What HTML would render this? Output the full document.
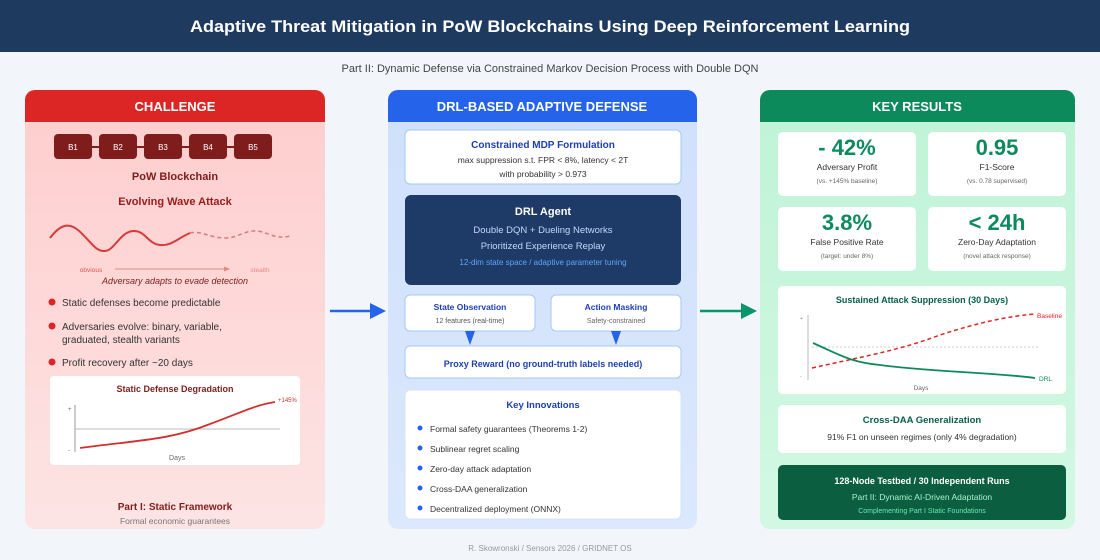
<!DOCTYPE html>
<html><head><meta charset="utf-8"><style>
html,body{margin:0;padding:0;background:#f0f4fa;}
svg{display:block;font-family:"Liberation Sans",Arial,sans-serif;}
</style></head><body>
<svg width="1100" height="560" viewBox="0 0 1100 560" xmlns="http://www.w3.org/2000/svg">
<defs>
<linearGradient id="gr" x1="0" y1="0" x2="0" y2="1"><stop offset="0" stop-color="#fecdcd"/><stop offset="1" stop-color="#fde4e4"/></linearGradient>
<linearGradient id="gb" x1="0" y1="0" x2="0" y2="1"><stop offset="0" stop-color="#cfe0fb"/><stop offset="1" stop-color="#dbe8fd"/></linearGradient>
<linearGradient id="gg" x1="0" y1="0" x2="0" y2="1"><stop offset="0" stop-color="#bff3d6"/><stop offset="1" stop-color="#d2f8e3"/></linearGradient>
</defs>
<rect width="1100" height="560" fill="#f2f6fb"/>
<rect width="1100" height="52" fill="#1e3a5f"/>
<text x="550" y="32" text-anchor="middle" fill="#fff" font-size="17" font-weight="bold" textLength="720" lengthAdjust="spacingAndGlyphs">Adaptive Threat Mitigation in PoW Blockchains Using Deep Reinforcement Learning</text>
<text x="550" y="72" text-anchor="middle" fill="#444" font-size="11">Part II: Dynamic Defense via Constrained Markov Decision Process with Double DQN</text>

<!-- LEFT -->
<rect x="25" y="90" width="300" height="439" rx="10" fill="url(#gr)"/>
<path d="M35 90 H315 a10 10 0 0 1 10 10 V122 H25 V100 a10 10 0 0 1 10 -10z" fill="#dc2626"/>
<text x="175" y="111" text-anchor="middle" fill="#fff" font-size="13" font-weight="bold">CHALLENGE</text>
<line x1="70" y1="147" x2="255" y2="147" stroke="#7f1d1d" stroke-width="2"/>
<g fill="#7f1d1d"><rect x="54" y="134" width="38" height="25" rx="4"/><rect x="99" y="134" width="38" height="25" rx="4"/><rect x="144" y="134" width="38" height="25" rx="4"/><rect x="189" y="134" width="38" height="25" rx="4"/><rect x="234" y="134" width="38" height="25" rx="4"/></g>
<g fill="#fff" font-size="8" text-anchor="middle"><text x="73" y="150">B1</text><text x="118" y="150">B2</text><text x="163" y="150">B3</text><text x="208" y="150">B4</text><text x="253" y="150">B5</text></g>
<text x="175" y="180" text-anchor="middle" fill="#7f1d1d" font-size="11" font-weight="bold">PoW Blockchain</text>
<text x="175" y="205" text-anchor="middle" fill="#991b1b" font-size="11" font-weight="bold">Evolving Wave Attack</text>
<path d="M50 238 C60 225 68 222 78 230 C90 240 95 252 105 251 C115 250 120 232 133 231 C145 230 148 244 160 245 C172 246 178 238 190 233" fill="none" stroke="#d63a3a" stroke-width="2"/>
<path d="M190 233 C200 230 210 238 225 238 C238 238 245 230 257 231 C268 232 275 240 290 236" fill="none" stroke="#e07a7a" stroke-width="1.5" stroke-dasharray="4 3"/>
<text x="91" y="272" text-anchor="middle" fill="#e05555" font-size="6.5">obvious</text>
<line x1="115" y1="269" x2="225" y2="269" stroke="#e08a8a" stroke-width="1"/>
<polygon points="230,269 224,266.5 224,271.5" fill="#e08a8a"/>
<text x="260" y="272" text-anchor="middle" fill="#e08a8a" font-size="6.5">stealth</text>
<text x="175" y="284" text-anchor="middle" fill="#7f1d1d" font-size="9" font-style="italic">Adversary adapts to evade detection</text>
<g fill="#dc2626"><circle cx="52" cy="302" r="3.5"/><circle cx="52" cy="326" r="3.5"/><circle cx="52" cy="362" r="3.5"/></g>
<g fill="#333" font-size="10"><text x="62" y="306">Static defenses become predictable</text><text x="62" y="330">Adversaries evolve: binary, variable,</text><text x="62" y="343">graduated, stealth variants</text><text x="62" y="366">Profit recovery after ~20 days</text></g>
<rect x="50" y="376" width="250" height="89" rx="4" fill="#fff"/>
<text x="175" y="392" text-anchor="middle" fill="#7f1d1d" font-size="9" font-weight="bold">Static Defense Degradation</text>
<line x1="75" y1="405" x2="75" y2="452" stroke="#999" stroke-width="1"/>
<line x1="75" y1="429" x2="280" y2="429" stroke="#bbb" stroke-width="1"/>
<path d="M80 448 C140 440 170 440 210 424 C240 413 255 405 275 402" fill="none" stroke="#d32f2f" stroke-width="1.8"/>
<text x="278" y="402" fill="#d32f2f" font-size="6">+145%</text>
<text x="68" y="411" fill="#666" font-size="6">+</text><text x="68" y="452" fill="#666" font-size="6">-</text>
<text x="177" y="460" text-anchor="middle" fill="#666" font-size="7">Days</text>
<text x="175" y="510" text-anchor="middle" fill="#7f1d1d" font-size="10" font-weight="bold">Part I: Static Framework</text>
<text x="175" y="524" text-anchor="middle" fill="#777" font-size="8.5">Formal economic guarantees</text>

<!-- arrows -->
<line x1="330" y1="311" x2="372" y2="311" stroke="#2563eb" stroke-width="2.5"/>
<polygon points="386,311 370,303 370,319" fill="#2563eb"/>
<line x1="700" y1="311" x2="743" y2="311" stroke="#059669" stroke-width="2.5"/>
<polygon points="757,311 741,303 741,319" fill="#059669"/>

<!-- MIDDLE -->
<rect x="388" y="90" width="309" height="439" rx="10" fill="url(#gb)"/>
<path d="M398 90 H687 a10 10 0 0 1 10 10 V122 H388 V100 a10 10 0 0 1 10 -10z" fill="#2563eb"/>
<text x="542" y="111" text-anchor="middle" fill="#fff" font-size="13" font-weight="bold">DRL-BASED ADAPTIVE DEFENSE</text>
<rect x="405" y="130" width="276" height="54" rx="5" fill="#fff" stroke="#a5c8f5"/>
<text x="543" y="148" text-anchor="middle" fill="#1e40af" font-size="10" font-weight="bold">Constrained MDP Formulation</text>
<text x="543" y="163" text-anchor="middle" fill="#333" font-size="8.5">max suppression s.t. FPR &lt; 8%, latency &lt; 2T</text>
<text x="543" y="177" text-anchor="middle" fill="#333" font-size="8.5">with probability &gt; 0.973</text>
<rect x="405" y="195" width="276" height="90" rx="6" fill="#1e3a66"/>
<text x="543" y="215" text-anchor="middle" fill="#fff" font-size="11" font-weight="bold">DRL Agent</text>
<text x="543" y="233" text-anchor="middle" fill="#bfdbfe" font-size="9.5">Double DQN + Dueling Networks</text>
<text x="543" y="249" text-anchor="middle" fill="#bfdbfe" font-size="9.5">Prioritized Experience Replay</text>
<text x="543" y="265" text-anchor="middle" fill="#60a5fa" font-size="8">12-dim state space / adaptive parameter tuning</text>
<rect x="405" y="295" width="130" height="36" rx="5" fill="#fff" stroke="#a5c8f5"/>
<text x="470" y="310" text-anchor="middle" fill="#1e40af" font-size="8.5" font-weight="bold">State Observation</text>
<text x="470" y="323" text-anchor="middle" fill="#555" font-size="7">12 features (real-time)</text>
<rect x="551" y="295" width="130" height="36" rx="5" fill="#fff" stroke="#a5c8f5"/>
<text x="616" y="310" text-anchor="middle" fill="#1e40af" font-size="8.5" font-weight="bold">Action Masking</text>
<text x="616" y="323" text-anchor="middle" fill="#666" font-size="7">Safety-constrained</text>
<polygon points="465,331 475,331 470,345" fill="#2563eb"/>
<polygon points="611,331 621,331 616,345" fill="#2563eb"/>
<rect x="405" y="346" width="276" height="32" rx="5" fill="#fff" stroke="#a5c8f5"/>
<text x="543" y="367" text-anchor="middle" fill="#1e40af" font-size="9" font-weight="bold">Proxy Reward (no ground-truth labels needed)</text>
<rect x="405" y="390" width="276" height="129" rx="5" fill="#fff" stroke="#d4e3fa"/>
<text x="543" y="408" text-anchor="middle" fill="#1e40af" font-size="9.5" font-weight="bold">Key Innovations</text>
<g fill="#2563eb"><circle cx="420" cy="428" r="2.5"/><circle cx="420" cy="448" r="2.5"/><circle cx="420" cy="468" r="2.5"/><circle cx="420" cy="488" r="2.5"/><circle cx="420" cy="508" r="2.5"/></g>
<g fill="#333" font-size="8.5"><text x="430" y="432">Formal safety guarantees (Theorems 1-2)</text><text x="430" y="452">Sublinear regret scaling</text><text x="430" y="472">Zero-day attack adaptation</text><text x="430" y="492">Cross-DAA generalization</text><text x="430" y="512">Decentralized deployment (ONNX)</text></g>

<!-- RIGHT -->
<rect x="760" y="90" width="315" height="439" rx="10" fill="url(#gg)"/>
<path d="M770 90 H1065 a10 10 0 0 1 10 10 V122 H760 V100 a10 10 0 0 1 10 -10z" fill="#0d8a5c"/>
<text x="917" y="111" text-anchor="middle" fill="#fff" font-size="13" font-weight="bold">KEY RESULTS</text>
<g fill="#fff"><rect x="778" y="132" width="138" height="64" rx="5"/><rect x="928" y="132" width="138" height="64" rx="5"/><rect x="778" y="207" width="138" height="64" rx="5"/><rect x="928" y="207" width="138" height="64" rx="5"/></g>
<g fill="#0d8a5c" font-size="22" font-weight="bold" text-anchor="middle"><text x="847" y="155">- 42%</text><text x="997" y="155">0.95</text><text x="847" y="230">3.8%</text><text x="997" y="230">&lt; 24h</text></g>
<g fill="#333" font-size="8.5" text-anchor="middle"><text x="847" y="170">Adversary Profit</text><text x="997" y="170">F1-Score</text><text x="847" y="245">False Positive Rate</text><text x="997" y="245">Zero-Day Adaptation</text></g>
<g fill="#666" font-size="6.5" text-anchor="middle"><text x="847" y="183">(vs. +145% baseline)</text><text x="997" y="183">(vs. 0.78 supervised)</text><text x="847" y="258">(target: under 8%)</text><text x="997" y="258">(novel attack response)</text></g>
<rect x="778" y="286" width="288" height="108" rx="5" fill="#fff"/>
<text x="922" y="303" text-anchor="middle" fill="#065f46" font-size="9" font-weight="bold">Sustained Attack Suppression (30 Days)</text>
<line x1="808" y1="315" x2="808" y2="380" stroke="#bbb"/>
<line x1="812" y1="347" x2="1040" y2="347" stroke="#ccc" stroke-dasharray="2 2"/>
<path d="M812 368 C870 355 900 350 940 335 C980 322 1010 316 1035 314" fill="none" stroke="#dc2626" stroke-width="1.5" stroke-dasharray="4 3"/>
<path d="M813 343 C840 355 850 362 880 365 C930 372 990 372 1035 378" fill="none" stroke="#0d8a5c" stroke-width="1.8"/>
<text x="1037" y="318" fill="#dc2626" font-size="6.5">Baseline</text>
<text x="1039" y="381" fill="#0d8a5c" font-size="6.5">DRL</text>
<text x="800" y="320" fill="#888" font-size="5">+</text><text x="800" y="378" fill="#888" font-size="5">-</text>
<text x="921" y="390" text-anchor="middle" fill="#666" font-size="6.5">Days</text>
<rect x="778" y="405" width="288" height="48" rx="5" fill="#fff"/>
<text x="922" y="423" text-anchor="middle" fill="#065f46" font-size="9.5" font-weight="bold">Cross-DAA Generalization</text>
<text x="922" y="440" text-anchor="middle" fill="#333" font-size="8.5">91% F1 on unseen regimes (only 4% degradation)</text>
<rect x="778" y="465" width="288" height="55" rx="5" fill="#0b5e40"/>
<text x="922" y="484" text-anchor="middle" fill="#fff" font-size="9" font-weight="bold">128-Node Testbed / 30 Independent Runs</text>
<text x="922" y="500" text-anchor="middle" fill="#a7f3d0" font-size="8.5">Part II: Dynamic AI-Driven Adaptation</text>
<text x="922" y="513" text-anchor="middle" fill="#6ee7b7" font-size="7">Complementing Part I Static Foundations</text>

<text x="550" y="551" text-anchor="middle" fill="#999" font-size="8">R. Skowronski / Sensors 2026 / GRIDNET OS</text>
</svg>
</body></html>
